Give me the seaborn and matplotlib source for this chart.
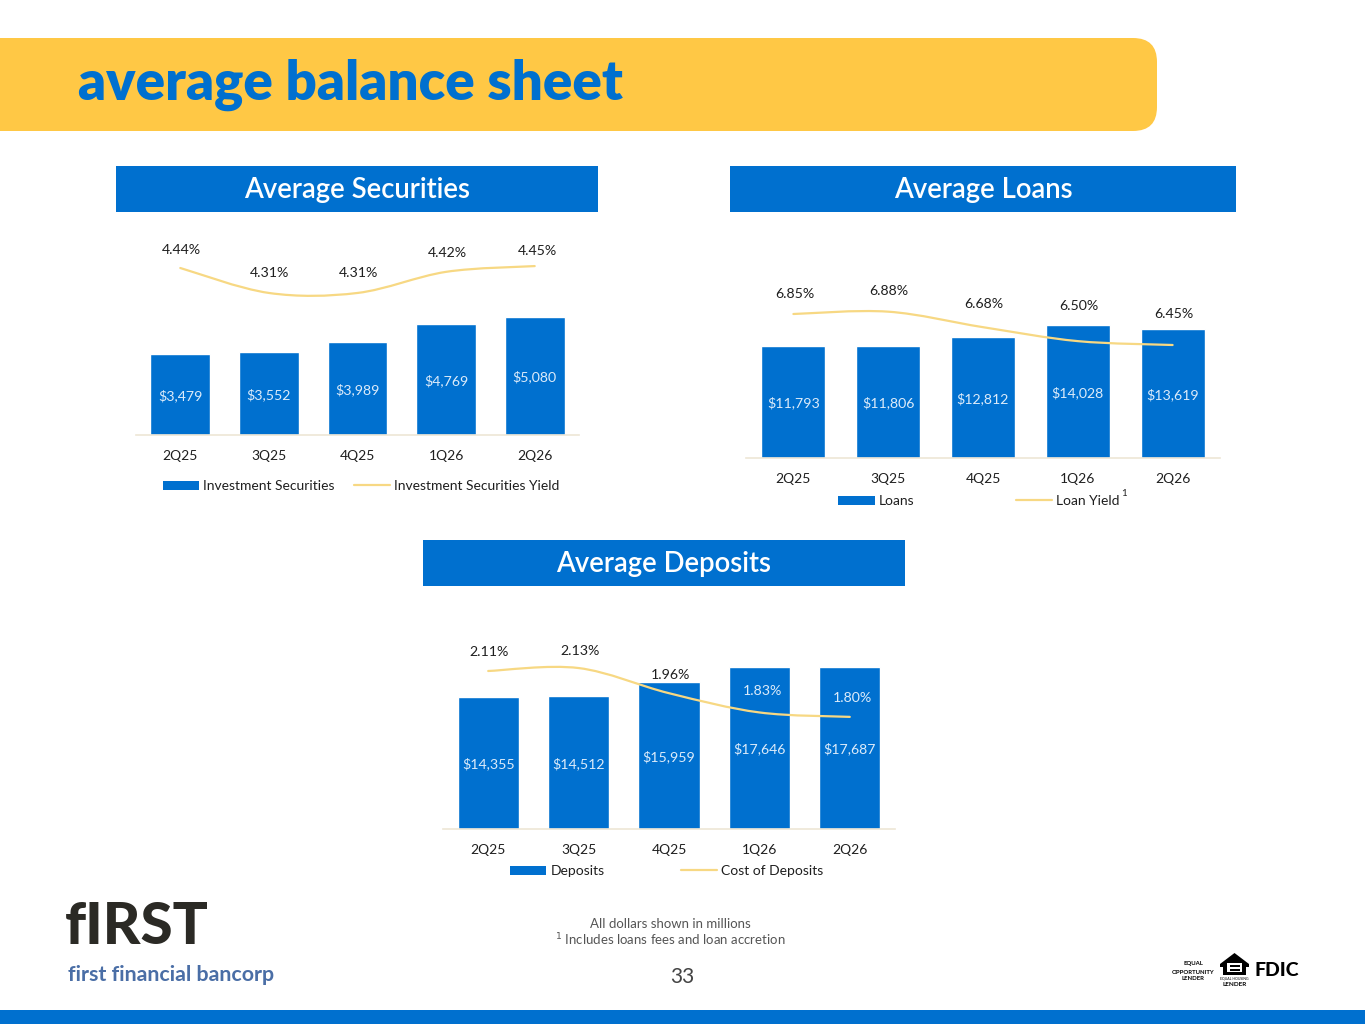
import pandas as pd
import seaborn as sns
import matplotlib.pyplot as plt
from matplotlib.path import Path
from matplotlib.patches import PathPatch, Patch, Polygon, Rectangle, FancyBboxPatch
from matplotlib.lines import Line2D

# data
quarters = ["2Q25", "3Q25", "4Q25", "1Q26", "2Q26"]

securities = [3479, 3552, 3989, 4769, 5080]
securities_yield = [4.44, 4.31, 4.31, 4.42, 4.45]

loans = [11793, 11806, 12812, 14028, 13619]
loan_yield = [6.85, 6.88, 6.68, 6.50, 6.45]

deposits = [14355, 14512, 15959, 17646, 17687]
deposit_cost = [2.11, 2.13, 1.96, 1.83, 1.80]

BLUE = "#0070CF"
YELLOW = "#FFC845"
LINE = "#F7D883"
AXIS = "#EDE6D6"
TXT = "#1F1F1F"
BAR_TXT = "#DCEBFA"
W, H = 1365, 1024

sns.set_theme(style="white")
plt.rcParams["font.family"] = ["Lato", "DejaVu Sans"]
plt.rcParams["font.size"] = 10

fig = plt.figure(figsize=(W / 100, H / 100), dpi=100, facecolor="white")

# background axes in slide pixels, for banner, headers and footer
bg = fig.add_axes([0, 0, 1, 1])
bg.set_xlim(0, W)
bg.set_ylim(H, 0)
bg.axis("off")

bg.add_patch(FancyBboxPatch((-60, 38), 1217, 93, boxstyle="round,pad=0,rounding_size=24",
                            fc=YELLOW, ec="none"))
bg.text(78, 85, "average balance sheet", color=BLUE, fontsize=39.3, fontweight="heavy",
        va="center", ha="left")

headers = [("Average Securities", 116, 598, 166), ("Average Loans", 730, 1236, 166),
           ("Average Deposits", 423, 905, 540)]
for label, x0, x1, y0 in headers:
    bg.add_patch(Rectangle((x0, y0), x1 - x0, 46, fc=BLUE, ec="none"))
    bg.text((x0 + x1) / 2, y0 + 24, label, color="white", fontsize=19.8, fontweight="semibold",
            ha="center", va="center")

bg.add_patch(Rectangle((0, 1010), W, 14, fc=BLUE, ec="none"))

# footnotes
bg.text(670, 923.5, "All dollars shown in millions", color="#555555", fontsize=9.5, ha="center", va="center")
bg.text(670, 939.5, "$^{1}$ Includes loans fees and loan accretion", color="#555555", fontsize=9.5,
        ha="center", va="center")
bg.text(682, 977, "33", color="#444444", fontsize=15, ha="center", va="center")
bg.text(1124, 494, "1", color=TXT, fontsize=7, ha="center", va="center")

# logo
bg.text(65, 927, "fIRST", color="#2B2A25", fontsize=42, fontweight="black",
        ha="left", va="center")
bg.text(68, 975, "first financial bancorp", color="#4A6EA6", fontsize=15.4, fontweight="bold",
        ha="left", va="center")

# lender marks
for y, word in zip([964, 972, 979], ["EQUAL", "OPPORTUNITY", "LENDER"]):
    bg.text(1193, y, word, color="black", fontsize=4.3, fontweight="bold", ha="center", va="center")
bg.add_patch(Polygon([(1220, 964), (1234.5, 953), (1249, 964), (1249, 967), (1246, 967), (1246, 975),
                      (1223, 975), (1223, 967), (1220, 967)], fc="black", ec="none"))
bg.add_patch(Rectangle((1227, 963), 15, 9, fc="white", ec="none"))
bg.add_patch(Rectangle((1229.5, 964.5), 10, 2.5, fc="black", ec="none"))
bg.add_patch(Rectangle((1229.5, 968.5), 10, 2.5, fc="black", ec="none"))
bg.text(1234.5, 978.5, "EQUAL HOUSING", color="black", fontsize=2.5, ha="center", va="center")
bg.text(1234.5, 984, "LENDER", color="black", fontsize=4.6, fontweight="bold", ha="center", va="center")
bg.text(1277, 970, "FDIC", color="black", fontsize=14, fontweight="black", ha="center", va="center")


def smooth_path(values):
    # same smoothing a spreadsheet line uses: one bezier segment per pair of points
    pts = list(enumerate(values))
    verts = [pts[0]]
    codes = [Path.MOVETO]
    for i in range(len(pts) - 1):
        before = pts[max(i - 1, 0)]
        after = pts[min(i + 2, len(pts) - 1)]
        c1 = (pts[i][0] + (pts[i + 1][0] - before[0]) / 6, pts[i][1] + (pts[i + 1][1] - before[1]) / 6)
        c2 = (pts[i + 1][0] - (after[0] - pts[i][0]) / 6, pts[i + 1][1] - (after[1] - pts[i][1]) / 6)
        verts += [c1, c2, pts[i + 1]]
        codes += [Path.CURVE4, Path.CURVE4, Path.CURVE4]
    return Path(verts, codes)


def draw_chart(bars, rates, bar_name, line_name, left, right, top, base, px_per_dollar,
               rate_ref, px_per_point, offsets, light, legend_xy, gap):
    ax = fig.add_axes([left / W, 1 - base / H, (right - left) / W, (base - top) / H])
    ax.patch.set_visible(False)
    df = pd.DataFrame({"quarter": quarters, "value": bars})
    sns.barplot(data=df, x="quarter", y="value", color=BLUE, saturation=1, width=0.675, ax=ax)
    ax.bar_label(ax.containers[0], labels=[f"${v:,}" for v in bars], label_type="center",
                 color=BAR_TXT, fontsize=10.2, padding=-0.8)
    ax.set_xlim(-0.5, 4.5)
    ax.set_ylim(0, (base - top) / px_per_dollar)
    ax.set_xlabel("")
    ax.set_ylabel("")
    ax.set_yticks([])
    ax.tick_params(axis="x", length=0, pad=10.5, labelsize=10, labelcolor=TXT)
    sns.despine(ax=ax, left=True)
    ax.spines["bottom"].set_color(AXIS)
    ax.spines["bottom"].set_linewidth(1.2)

    # yield line on its own scale over the bars
    tw = ax.twinx()
    val, px = rate_ref
    tw.set_ylim(val - (base - px) / px_per_point, val + (px - top) / px_per_point)
    tw.axis("off")
    tw.add_patch(PathPatch(smooth_path(rates), fc="none", ec=LINE, lw=1.6, capstyle="round"))
    for i, r in enumerate(rates):
        dx, dy = offsets[i]
        tw.annotate(f"{r:.2f}%", (i, r), xytext=((dx + 1) * 0.72, (dy - 0.5) * 0.72), textcoords="offset points",
                    ha="center", va="center", fontsize=10.2, color=BAR_TXT if i in light else TXT)

    handles = [Patch(fc=BLUE, ec="none", label=bar_name), Line2D([], [], color=LINE, lw=1.6, label=line_name)]
    tw.legend(handles=handles, loc="center", ncol=2, frameon=False, fontsize=10,
              bbox_to_anchor=(legend_xy[0] / W, 1 - (legend_xy[1] + 1) / H), bbox_transform=fig.transFigure,
              handlelength=2.6, handleheight=0.6, handletextpad=0.3, columnspacing=gap,
              labelcolor=TXT, borderpad=0, borderaxespad=0)


draw_chart(securities, securities_yield, "Investment Securities", "Investment Securities Yield",
           136, 579, 240, 435, 118 / 5080, (4.44, 268), 192,
           [(0, 18), (0, 20), (0, 20), (0, 19), (2, 16)], [], (361, 485), 1.4)
draw_chart(loans, loan_yield, "Loans", "Loan Yield",
           746, 1220, 270, 458, 133 / 14028, (6.85, 314), 77.5,
           [(0, 20), (0, 21), (0, 24), (0, 36), (0, 31)], [], (979, 500), 7.3)
draw_chart(deposits, deposit_cost, "Deposits", "Cost of Deposits",
           443, 895, 640, 829, 162 / 17646, (2.11, 671), 148,
           [(0, 19), (0, 18), (0, 19), (2, 22), (2, 19)], [3, 4], (667, 870), 5.5)

fig.savefig("out.png", dpi=100)
